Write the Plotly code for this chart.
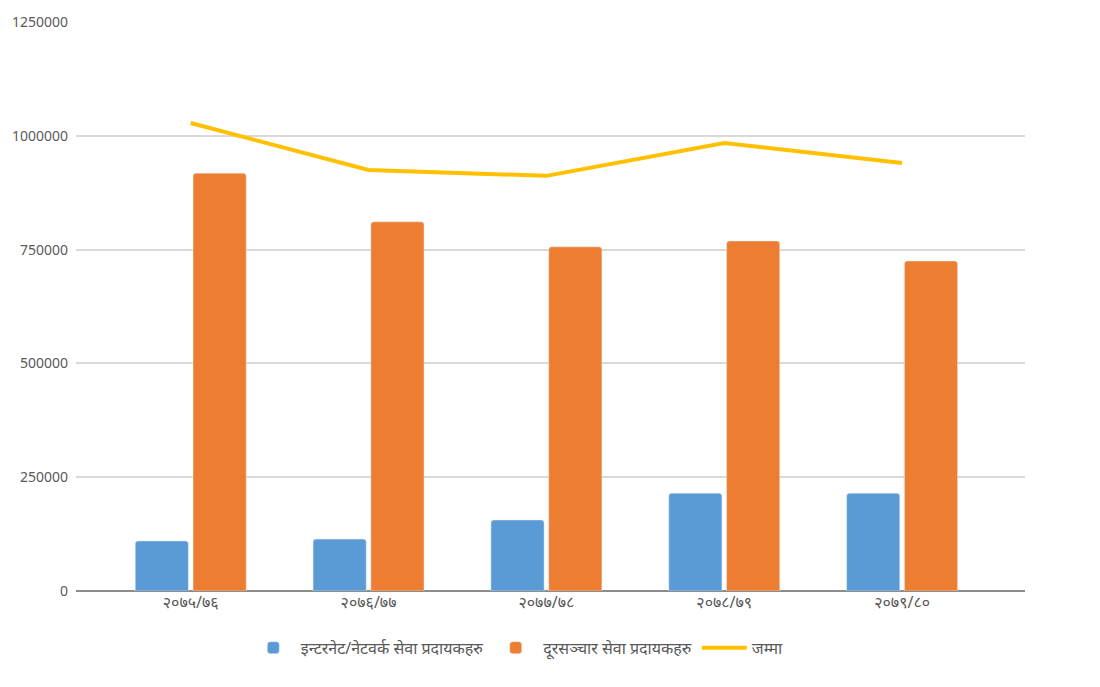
import plotly.graph_objects as go

categories = ["२०७५/७६", "२०७६/७७", "२०७७/७८", "२०७८/७९", "२०७९/८०"]
internet = [110000, 114000, 156000, 215000, 215000]
telecom = [918000, 811000, 756000, 769000, 725000]
total = [1028000, 925000, 912000, 984000, 940000]
y_ticks = [0, 250000, 500000, 750000, 1000000, 1250000]

names = ["इन्टरनेट/नेटवर्क सेवा प्रदायकहरु", "दूरसञ्चार सेवा प्रदायकहरु", "जम्मा"]

fig = go.Figure()
fig.add_trace(go.Bar(x=categories, y=internet, name=names[0], marker_color="#5B9BD5"))
fig.add_trace(go.Bar(x=categories, y=telecom, name=names[1], marker_color="#ED7D31"))
fig.add_trace(go.Scatter(x=categories, y=total, name=names[2], mode="lines",
                         line=dict(color="#FFC000", width=4)))

fig.update_layout(
    width=1100, height=687,
    margin=dict(l=70, r=75, t=22, b=96),
    plot_bgcolor="white", paper_bgcolor="white",
    barmode="group", bargap=0.35, bargroupgap=0.08, barcornerradius=3,
    font=dict(family="Noto Sans, DejaVu Sans, sans-serif", size=14, color="#595959"),
    legend=dict(orientation="h", x=0.465, xanchor="center", y=-0.07, yanchor="top",
                font=dict(size=16, color="#595959"), itemwidth=45, tracegroupgap=0),
    xaxis=dict(range=[-0.645, 4.691], showgrid=False, ticks="", showline=False,
               tickfont=dict(size=16, color="#595959")),
    yaxis=dict(range=[0, 1250000], tickvals=y_ticks, ticktext=[str(v) for v in y_ticks],
               showgrid=True, gridcolor="#D9D9D9", gridwidth=1.5,
               zeroline=True, zerolinecolor="#8C8C8C", zerolinewidth=2,
               ticks="", tickfont=dict(size=14, color="#595959"), ticklabelstandoff=7),
)

fig.write_html("out.html")
